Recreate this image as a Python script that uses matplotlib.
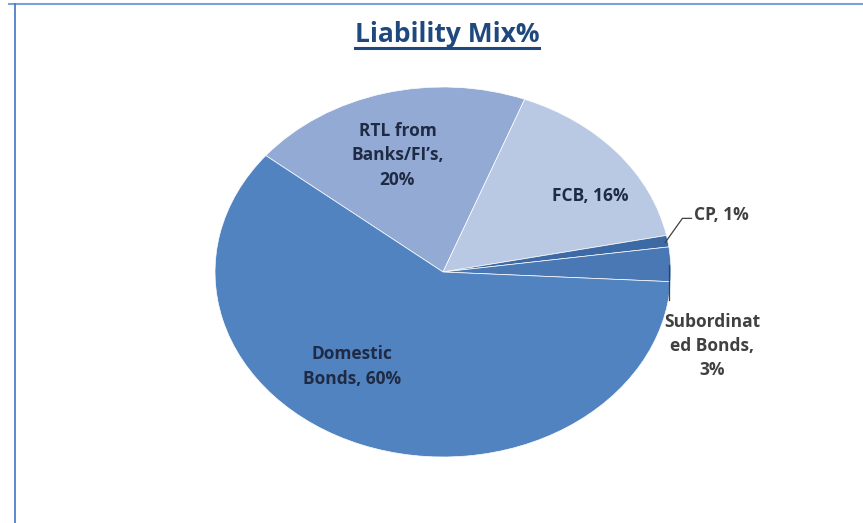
import matplotlib
matplotlib.use("Agg")
import matplotlib.pyplot as plt
from matplotlib.lines import Line2D

categories = ["RTL from\nBanks/FI\u2019s,\n20%", "FCB, 16%", "CP, 1%", "Subordinat\ned Bonds,\n3%", "Domestic\nBonds, 60%"]
values = [20, 16, 1, 3, 60]
colors = ["#93ABD4", "#B9C9E4", "#3D69A5", "#4A78B4", "#5183C0"]
title = "Liability Mix%"

W, H = 863, 523
fig = plt.figure(figsize=(W / 100, H / 100), dpi=100)
fig.patch.set_facecolor("white")

# border lines
fig.add_artist(Line2D([9 / W, 1], [1 - 4 / H, 1 - 4 / H], color="#7F9FD6", lw=1.5))
fig.add_artist(Line2D([15 / W, 15 / W], [0, 1 - 4 / H], color="#4472C4", lw=1.2))

cx, cy, rx, ry = 443, 272, 228, 185
ax = fig.add_axes([(cx - rx) / W, 1 - (cy + ry) / H, 2 * rx / W, 2 * ry / H])
wedges, _ = ax.pie(values, colors=colors, startangle=141, counterclock=False,
                   wedgeprops=dict(edgecolor="white", linewidth=0.5), radius=1.0)
ax.set_aspect("auto")
ax.set_xlim(-1, 1)
ax.set_ylim(-1, 1)
ax.axis("off")

font = ["Open Sans", "DejaVu Sans"]
lab_col = "#1F2A44"
fs = 12.5
ls = 1.45
ax.text(-0.20, 0.63, categories[0], ha="center", va="center", fontsize=fs, fontweight="bold",
        color=lab_col, family=font, linespacing=ls)
ax.text(0.645, 0.41, categories[1], ha="center", va="center", fontsize=fs, fontweight="bold",
        color=lab_col, family=font)
ax.text(-0.40, -0.51, categories[4], ha="center", va="center", fontsize=fs, fontweight="bold",
        color=lab_col, family=font, linespacing=ls)
ax.text(1.10, 0.31, categories[2], ha="left", va="center", fontsize=fs, fontweight="bold",
        color="#404040", family=font, clip_on=False)
ax.text(1.18, -0.40, categories[3], ha="center", va="center", fontsize=fs, fontweight="bold",
        color="#404040", family=font, linespacing=ls, clip_on=False)
# leader lines
ax.plot([0.975, 1.05, 1.09], [0.16, 0.29, 0.29], color="#404040", lw=0.9, clip_on=False)
ax.plot([0.99, 0.99], [0.04, -0.15], color="#404040", lw=0.9, clip_on=False)

t = fig.text(447 / W, 1 - 35 / H, title, ha="center", va="center", fontsize=19,
             fontweight="bold", color="#1F497D", family=font)
fig.canvas.draw()
bb = t.get_window_extent()
fig.add_artist(Line2D([bb.x0 / W, bb.x1 / W], [1 - 48 / H, 1 - 48 / H], color="#1F497D", lw=2.2))

fig.savefig("out.png", dpi=100)
